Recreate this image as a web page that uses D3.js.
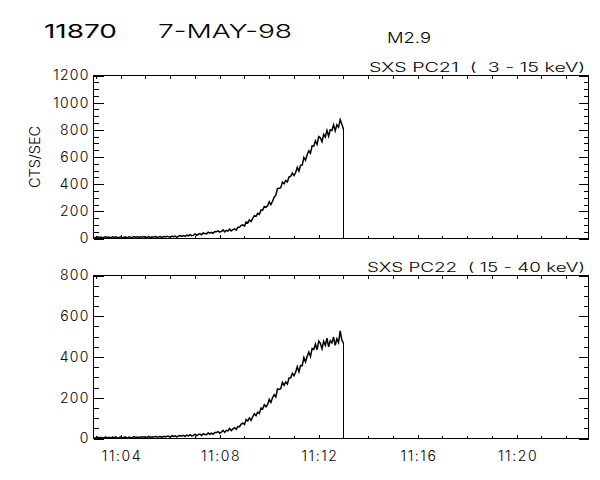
<!DOCTYPE html>
<html>
<head>
<meta charset="utf-8">
<script src="https://cdn.jsdelivr.net/npm/d3@7"></script>
<style>
  body { margin: 0; background: #fff; }
  svg { display: block; }
  text { font-family: Inter, "DejaVu Sans", sans-serif; font-weight: 300; fill: #000; }
</style>
</head>
<body>
<div id="chart"></div>
<script>
// header strings
const orbitId = '11870';
const eventDate = '7-MAY-98';
const flareClass = 'M2.9';
const channelLabels = ['SXS PC21  (  3 - 15 keV)', 'SXS PC22  ( 15 - 40 keV)'];
const yLabel = 'CTS/SEC';
const yMaxes = [1200, 800];

// samples every 4 s starting 11:02:56 UT
const sampleStart = Date.UTC(1998, 4, 7, 11, 2, 56);
const sampleStep = 4000;
const windowStart = Date.UTC(1998, 4, 7, 11, 2, 54);
const windowEnd = Date.UTC(1998, 4, 7, 11, 22, 54);

const pc21 = [
  9, 5, 12, 7, 11, 5, 9, 12, 7, 11, 5, 12, 8, 13, 7,
  7, 13, 6, 10, 11, 5, 13, 10, 8, 14, 9, 12, 7, 12, 10,
  14, 8, 9, 14, 6, 13, 9, 16, 7, 12, 14, 7, 14, 11, 16,
  14, 7, 18, 13, 18, 9, 17, 22, 15, 21, 15, 25, 20, 29, 21,
  23, 33, 24, 31, 36, 27, 41, 36, 34, 47, 40, 46, 39, 51, 50,
  56, 47, 52, 63, 49, 60, 55, 69, 56, 66, 71, 61, 82, 82, 97,
  100, 92, 122, 115, 136, 125, 148, 168, 163, 185, 178, 209, 208, 235, 230,
  241, 271, 249, 274, 304, 319, 369, 370, 374, 415, 403, 427, 416, 453, 457,
  482, 463, 486, 524, 497, 539, 540, 596, 577, 617, 646, 628, 682, 680, 719,
  693, 750, 741, 713, 766, 747, 796, 753, 800, 795, 837, 792, 838, 820, 875, 842,
  805
];

const pc22 = [
  5, 2, 7, 3, 6, 1, 5, 7, 3, 6, 2, 7, 4, 8, 3,
  4, 8, 3, 6, 7, 2, 7, 5, 4, 9, 5, 7, 4, 8, 6,
  8, 4, 6, 10, 5, 8, 6, 11, 6, 9, 10, 6, 11, 8, 11,
  11, 7, 14, 10, 13, 8, 12, 15, 11, 15, 10, 17, 13, 19, 13,
  14, 21, 13, 19, 22, 14, 24, 20, 19, 27, 21, 26, 21, 29, 29,
  34, 26, 31, 40, 30, 40, 37, 49, 39, 47, 53, 45, 59, 58, 71,
  75, 69, 93, 86, 101, 89, 107, 121, 112, 129, 123, 149, 145, 166, 156,
  166, 192, 177, 200, 215, 204, 243, 241, 244, 276, 261, 278, 267, 297, 298,
  320, 308, 325, 353, 327, 358, 357, 398, 376, 404, 424, 402, 441, 437, 463,
  436, 478, 467, 440, 477, 457, 492, 450, 480, 469, 498, 457, 489, 471, 528, 483,
  468
];

const series = [pc21, pc22];

const width = 600, height = 480;
const left = 93.5, right = 588.5;
const panels = [
  { top: 75.5, bottom: 238.5 },
  { top: 275.5, bottom: 438.5 }
];

const svg = d3.select('#chart')
  .append('svg')
  .attr('width', width)
  .attr('height', height);

svg.append('rect')
  .attr('width', width)
  .attr('height', height)
  .attr('fill', '#fff');

// header
svg.append('text')
  .attr('x', 44).attr('y', 37.5)
  .attr('font-size', 19)
  .style('font-weight', 400)
  .attr('textLength', 73).attr('lengthAdjust', 'spacingAndGlyphs')
  .text(orbitId);
svg.append('text')
  .attr('x', 158).attr('y', 37.5)
  .attr('font-size', 19)
  .attr('textLength', 134).attr('lengthAdjust', 'spacingAndGlyphs')
  .text(eventDate);
svg.append('text')
  .attr('x', 387).attr('y', 43)
  .attr('font-size', 14.5)
  .attr('textLength', 44).attr('lengthAdjust', 'spacingAndGlyphs')
  .text(flareClass);

const x = d3.scaleUtc()
  .domain([windowStart, windowEnd])
  .range([left, right]);

const sampleTime = i => new Date(sampleStart + i * sampleStep);

panels.forEach((p, k) => {
  const y = d3.scaleLinear()
    .domain([0, yMaxes[k]])
    .range([p.bottom, p.top]);
  const g = svg.append('g');

  // y axes: left with labels, right plain
  const majors = d3.range(0, yMaxes[k] + 1, 200);
  const minors = d3.range(0, yMaxes[k] + 1, 50).filter(v => v % 200 !== 0);
  g.append('g')
    .attr('transform', `translate(${left},0)`)
    .call(d3.axisLeft(y).tickValues(majors).tickSize(-10).tickSizeOuter(0).tickPadding(4)
      .tickFormat(d3.format('d')))
    .call(a => a.select('.domain').remove())
    .call(a => a.selectAll('text').attr('font-size', 14).attr('font-family', null)
      .attr('letter-spacing', 1.2));
  g.append('g')
    .attr('transform', `translate(${left},0)`)
    .call(d3.axisLeft(y).tickValues(minors).tickSize(-5).tickFormat(''))
    .call(a => a.select('.domain').remove());
  g.append('g')
    .attr('transform', `translate(${right},0)`)
    .call(d3.axisRight(y).tickValues(majors).tickSize(-10).tickFormat(''))
    .call(a => a.select('.domain').remove());
  g.append('g')
    .attr('transform', `translate(${right},0)`)
    .call(d3.axisRight(y).tickValues(minors).tickSize(-5).tickFormat(''))
    .call(a => a.select('.domain').remove());

  // x axes: bottom and top
  const xb = d3.axisBottom(x).ticks(d3.utcMinute.every(4)).tickSize(-4).tickPadding(13)
    .tickFormat(k === 1 ? d3.utcFormat('%H:%M') : '');
  g.append('g')
    .attr('transform', `translate(0,${p.bottom})`)
    .call(xb)
    .call(a => a.select('.domain').remove())
    .call(a => a.selectAll('text').attr('font-size', 14).attr('font-family', null)
      .attr('letter-spacing', 1.6).attr('dx', 0.8));
  g.append('g')
    .attr('transform', `translate(0,${p.bottom})`)
    .call(d3.axisBottom(x).ticks(d3.utcMinute.every(1)).tickSize(-3).tickFormat(''))
    .call(a => a.select('.domain').remove());
  g.append('g')
    .attr('transform', `translate(0,${p.top})`)
    .call(d3.axisTop(x).ticks(d3.utcMinute.every(1)).tickSize(-3.5).tickFormat(''))
    .call(a => a.select('.domain').remove());

  g.selectAll('.tick line').attr('stroke', '#000').attr('shape-rendering', 'crispEdges');

  // frame
  g.append('rect')
    .attr('x', left).attr('y', p.top)
    .attr('width', right - left).attr('height', p.bottom - p.top)
    .attr('fill', 'none').attr('stroke', '#000')
    .attr('shape-rendering', 'crispEdges');

  // channel label
  g.append('text')
    .attr('x', 585).attr('y', p.top - 3.5)
    .attr('text-anchor', 'end')
    .attr('font-size', 12.5)
    .attr('textLength', k === 0 ? 216 : 218).attr('lengthAdjust', 'spacingAndGlyphs')
    .style('white-space', 'pre')
    .text(channelLabels[k]);

  // light curve, then drop to zero at end of data
  const data = series[k];
  const line = d3.line()
    .x((d, i) => x(sampleTime(i)))
    .y(d => y(d));
  g.append('path')
    .datum(data)
    .attr('d', line)
    .attr('fill', 'none')
    .attr('stroke', '#000')
    .attr('stroke-width', 1.5);
  const last = data.length - 1;
  g.append('line')
    .attr('x1', Math.round(x(sampleTime(last))) + 0.5)
    .attr('x2', Math.round(x(sampleTime(last))) + 0.5)
    .attr('y1', y(data[last]))
    .attr('y2', y(0))
    .attr('stroke', '#000')
    .attr('shape-rendering', 'crispEdges');

  if (k === 0) {
    svg.append('text')
      .attr('transform', `translate(34,${(p.top + p.bottom) / 2}) rotate(-90)`)
      .attr('text-anchor', 'middle')
      .attr('dominant-baseline', 'central')
      .attr('font-size', 14)
      .attr('textLength', 62).attr('lengthAdjust', 'spacingAndGlyphs')
      .text(yLabel);
  }
});
</script>
</body>
</html>
